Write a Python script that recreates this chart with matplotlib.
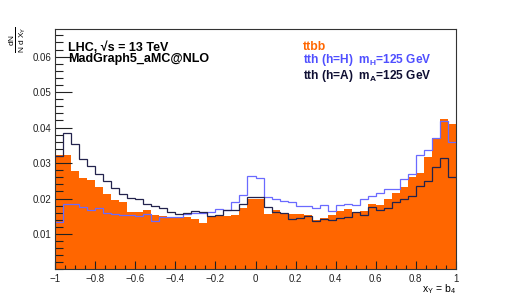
import numpy as np
import matplotlib
matplotlib.use("Agg")
import matplotlib.pyplot as plt
from matplotlib.ticker import MultipleLocator, FixedLocator

plt.rcParams['font.family'] = ['Liberation Sans', 'DejaVu Sans']
plt.rcParams['mathtext.fontset'] = 'custom'
plt.rcParams['mathtext.rm'] = 'Liberation Sans'
plt.rcParams['mathtext.it'] = 'Liberation Sans'
plt.rcParams['mathtext.bf'] = 'Liberation Sans:bold'

# ---- data ----
x_min, x_max, n_bins = -1.0, 1.0, 50

ttbb = [0.0324, 0.0324, 0.0277, 0.0257, 0.0251, 0.0232, 0.0213, 0.0195, 0.0190, 0.0162,
        0.0163, 0.0167, 0.0154, 0.0151, 0.0148, 0.0145, 0.0147, 0.0143, 0.0130, 0.0151,
        0.0152, 0.0152, 0.0153, 0.0174, 0.0200, 0.0200, 0.0156, 0.0168, 0.0159, 0.0156,
        0.0157, 0.0155, 0.0140, 0.0146, 0.0155, 0.0166, 0.0170, 0.0162, 0.0164, 0.0184,
        0.0182, 0.0200, 0.0215, 0.0233, 0.0262, 0.0271, 0.0316, 0.0370, 0.0423, 0.0410]

tth_H = [0.0135, 0.0186, 0.0184, 0.0177, 0.0167, 0.0172, 0.0158, 0.0157, 0.0155, 0.0153,
         0.0150, 0.0157, 0.0138, 0.0147, 0.0147, 0.0149, 0.0157, 0.0160, 0.0160, 0.0163,
         0.0170, 0.0168, 0.0189, 0.0210, 0.0264, 0.0259, 0.0204, 0.0198, 0.0192, 0.0189,
         0.0178, 0.0180, 0.0174, 0.0181, 0.0166, 0.0181, 0.0184, 0.0182, 0.0199, 0.0206,
         0.0217, 0.0226, 0.0228, 0.0254, 0.0268, 0.0323, 0.0336, 0.0370, 0.0418, 0.0358]

tth_A = [0.0320, 0.0386, 0.0353, 0.0312, 0.0292, 0.0268, 0.0249, 0.0229, 0.0212, 0.0202,
         0.0200, 0.0184, 0.0180, 0.0174, 0.0163, 0.0156, 0.0158, 0.0165, 0.0161, 0.0152,
         0.0155, 0.0168, 0.0168, 0.0184, 0.0203, 0.0203, 0.0177, 0.0163, 0.0158, 0.0142,
         0.0146, 0.0152, 0.0137, 0.0142, 0.0139, 0.0146, 0.0149, 0.0161, 0.0155, 0.0177,
         0.0169, 0.0172, 0.0191, 0.0198, 0.0207, 0.0235, 0.0250, 0.0290, 0.0313, 0.0261]

x_ticks = [-1, -0.8, -0.6, -0.4, -0.2, 0, 0.2, 0.4, 0.6, 0.8, 1]
x_ticklabels = ["\u22121", "\u22120.8", "\u22120.6", "\u22120.4", "\u22120.2", "0",
                "0.2", "0.4", "0.6", "0.8", "1"]
y_ticks = [0.01, 0.02, 0.03, 0.04, 0.05, 0.06]
y_ticklabels = ["0.01", "0.02", "0.03", "0.04", "0.05", "0.06"]

c_orange = "#ff6600"
c_blue = "#6a6aff"
c_dark = "#23234d"

edges = np.linspace(x_min, x_max, n_bins + 1)

fig = plt.figure(figsize=(5.06, 3.0), dpi=100)
ax = fig.add_axes([0.1093, 0.1017, 0.7913, 0.8006])

ax.stairs(ttbb, edges, fill=True, color=c_orange, baseline=0, zorder=1)
ax.stairs(tth_H, edges, color=c_blue, linewidth=0.9, baseline=None, zorder=2)
ax.stairs(tth_A, edges, color=c_dark, linewidth=0.9, baseline=None, zorder=3)

ax.set_xlim(x_min, x_max)
ax.set_ylim(0, 0.0677)

ax.xaxis.set_major_locator(FixedLocator(x_ticks))
ax.set_xticklabels(x_ticklabels)
ax.xaxis.set_minor_locator(MultipleLocator(0.05))
ax.yaxis.set_major_locator(FixedLocator(y_ticks))
ax.set_yticklabels(y_ticklabels)
ax.yaxis.set_minor_locator(MultipleLocator(0.002))

ax.tick_params(axis='both', which='both', direction='in', top=False, right=False,
               labelsize=7, colors='#222222', width=0.8)
ax.tick_params(axis='x', which='major', length=6, pad=3)
ax.tick_params(axis='x', which='minor', length=3)
ax.tick_params(axis='y', which='major', length=12, pad=3)
ax.tick_params(axis='y', which='minor', length=6)
for s in ax.spines.values():
    s.set_linewidth(0.8)
    s.set_color('#333333')

fig.text(455.7 / 506, 1 - 289 / 300, r'x$_{\mathrm{Y}}$ = b$_{4}$', ha='right', va='center',
         fontsize=7.5)
fig.text(17 / 506, 1 - 40 / 300, r'$\frac{\mathrm{dN}}{\mathrm{N\ d\ X_{Y}}}$', rotation=90,
         ha='center', va='center', fontsize=8.5)

fig.text(68 / 506, 1 - 48 / 300, "LHC, \u221as = 13 TeV", fontsize=9, fontweight='bold',
         ha='left', va='center')
fig.text(68 / 506, 1 - 59 / 300, "MadGraph5_aMC@NLO", fontsize=9, fontweight='bold',
         ha='left', va='center')

fig.text(303 / 506, 1 - 47 / 300, "ttbb", fontsize=8.8, fontweight='bold', color=c_orange,
         ha='left', va='center')
fig.text(303 / 506, 1 - 60.5 / 300, r"tth (h=H)  m$_{\mathbf{H}}$=125 GeV", fontsize=8.6,
         fontweight='bold', color="#4f4fff", ha='left', va='center')
fig.text(303 / 506, 1 - 75.5 / 300, r"tth (h=A)  m$_{\mathbf{A}}$=125 GeV", fontsize=8.6,
         fontweight='bold', color="#0f0f33", ha='left', va='center')

fig.savefig("out.png", dpi=100)
